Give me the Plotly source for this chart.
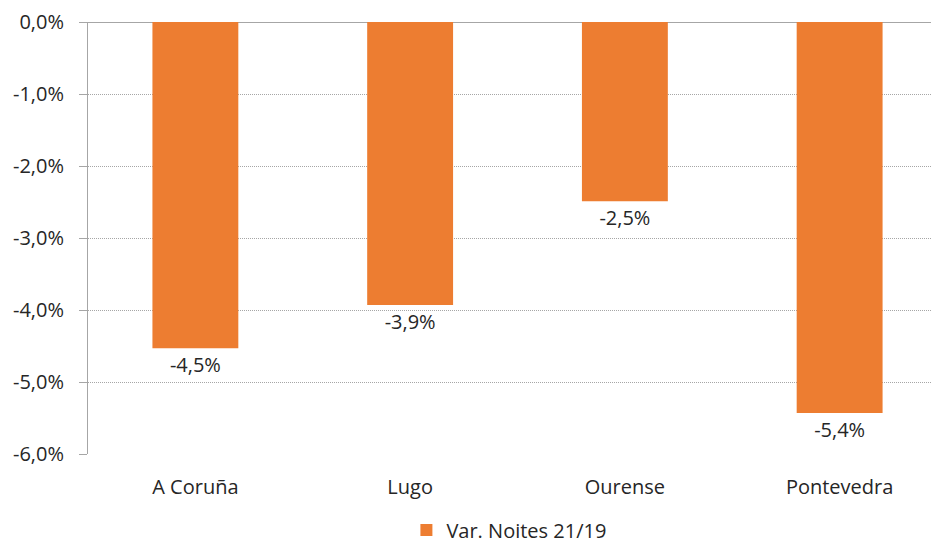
import plotly.graph_objects as go

categories = ["A Coruña", "Lugo", "Ourense", "Pontevedra"]
values = [-4.53, -3.93, -2.49, -5.43]
tick_vals = [0, -1, -2, -3, -4, -5, -6]
tick_text = ["0,0%", "-1,0%", "-2,0%", "-3,0%", "-4,0%", "-5,0%", "-6,0%"]
series_name = "Var. Noites 21/19"

FONT = "Open Sans, Liberation Sans, sans-serif"
TXT = "#262626"
GRID = "#a6a6a6"

fig = go.Figure()
fig.add_trace(go.Bar(
    x=categories, y=values, name=series_name,
    marker=dict(color="#ED7D31", line=dict(width=0)),
    width=0.4,
    text=[f"{v:.1f}%".replace(".", ",") for v in values],
    textposition="outside",
    textfont=dict(size=20, color=TXT, family=FONT),
    cliponaxis=False,
    showlegend=True,
))

# page body has an 8px margin: figure is sized so the plot lands where the reference has it
fig.update_layout(
    width=940, height=536,
    margin=dict(l=80, r=1, t=14, b=90, autoexpand=False),
    paper_bgcolor="white", plot_bgcolor="white",
    font=dict(family=FONT, color=TXT, size=20),
    showlegend=True,
    legend=dict(orientation="h", x=0.49, xanchor="center", y=-0.176, yanchor="middle",
                font=dict(size=20, color=TXT), itemwidth=30),
)
fig.update_yaxes(
    range=[-6, 0], tickvals=tick_vals, ticktext=tick_text,
    showgrid=True, gridcolor=GRID, griddash="1px,1px", gridwidth=1,
    zeroline=True, zerolinecolor=GRID, zerolinewidth=1,
    showline=True, linecolor=GRID, linewidth=1,
    ticks="outside", ticklen=8, tickcolor=GRID,
    tickfont=dict(size=20, color=TXT),
    ticklabelstandoff=11,
    automargin=False,
    fixedrange=True,
)
fig.update_xaxes(
    showgrid=False, ticks="", showline=False,
    tickfont=dict(size=20, color=TXT),
    ticklabelstandoff=19,
    automargin=False,
)

fig.write_html("out.html")
